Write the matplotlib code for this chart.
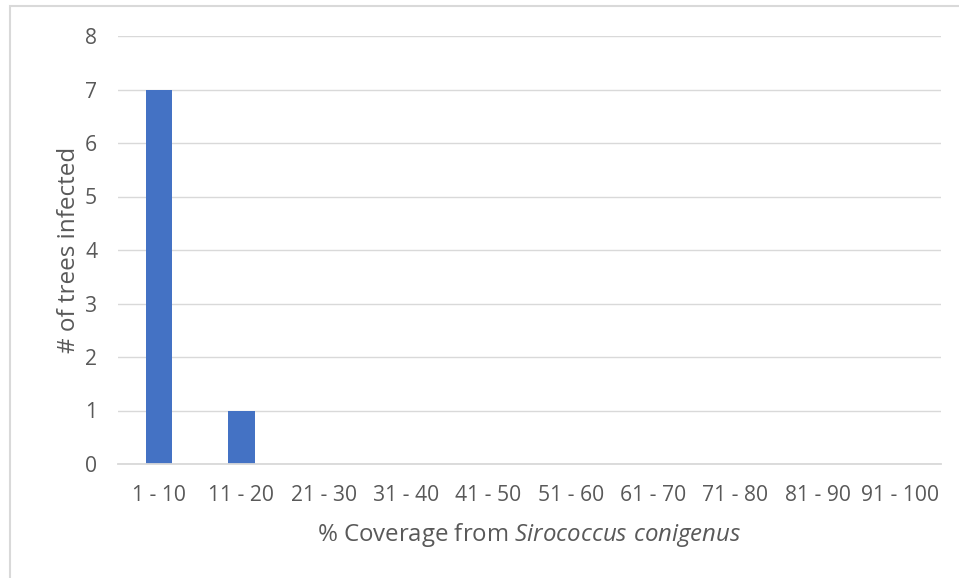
import matplotlib
matplotlib.use("Agg")
import matplotlib.pyplot as plt
from matplotlib.patches import Rectangle

categories = ["1 - 10", "11 - 20", "21 - 30", "31 - 40", "41 - 50",
              "51 - 60", "61 - 70", "71 - 80", "81 - 90", "91 - 100"]
trees_infected = [7, 1, 0, 0, 0, 0, 0, 0, 0, 0]
y_ticks = [0, 1, 2, 3, 4, 5, 6, 7, 8]

FONT = "Open Sans"
TEXT = "#595959"
GRID = "#D9D9D9"
BAR = "#4472C4"

plt.rcParams["font.family"] = [FONT, "DejaVu Sans"]
plt.rcParams["mathtext.fontset"] = "custom"
plt.rcParams["mathtext.rm"] = FONT
plt.rcParams["mathtext.it"] = f"{FONT}:italic"

W, H = 959, 578
fig = plt.figure(figsize=(W / 100, H / 100), dpi=100)

# chart frame
fig.patches.append(Rectangle((10 / W, -0.1), 1.2, 1 - 6 / H + 0.1,
                             transform=fig.transFigure, fill=False,
                             edgecolor=GRID, linewidth=1.5))

ax = fig.add_axes([118 / W, 1 - 464 / H, (941 - 118) / W, (464 - 36) / H])
x = range(len(categories))
ax.bar(x, trees_infected, width=0.32, color=BAR, zorder=3)

ax.set_xlim(-0.5, len(categories) - 0.5)
ax.set_ylim(0, 8)
ax.set_yticks(y_ticks)
ax.set_xticks(list(x))
ax.set_xticklabels(categories)

for s in ["top", "right", "left"]:
    ax.spines[s].set_visible(False)
ax.spines["bottom"].set_color(GRID)
ax.spines["bottom"].set_linewidth(1.3)
ax.spines["bottom"].set_zorder(4)

ax.yaxis.grid(True, color=GRID, linewidth=1.0, zorder=0)
ax.tick_params(axis="both", length=0, labelsize=15.2, colors=TEXT)
ax.tick_params(axis="y", pad=15)
ax.tick_params(axis="x", pad=15)

ax.set_ylabel("# of trees infected", fontsize=17.5, color=TEXT, labelpad=3)
ax.set_xlabel(r"% Coverage from $\mathit{Sirococcus\ conigenus}$",
              fontsize=17.3, color=TEXT, labelpad=11)

fig.savefig("out.png", dpi=100)
